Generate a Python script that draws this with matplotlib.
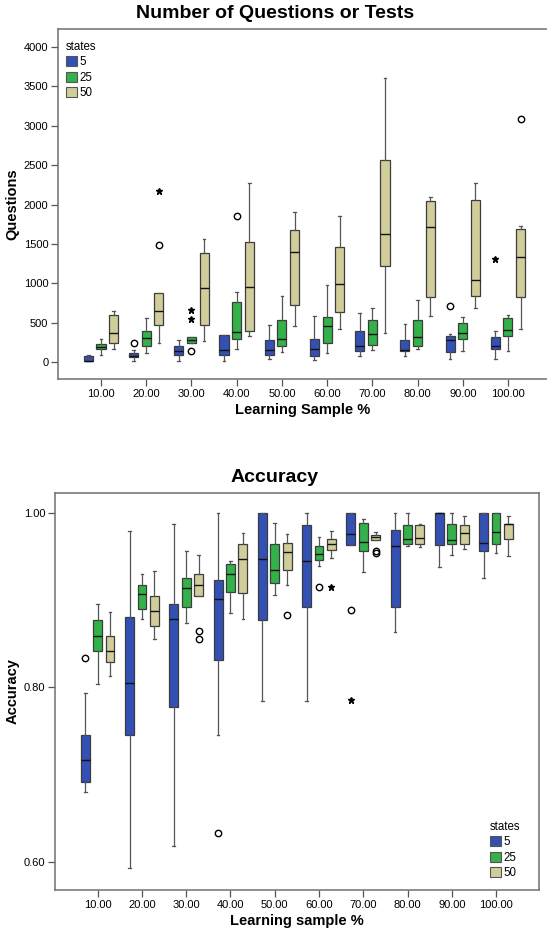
import numpy as np
import matplotlib
matplotlib.use("Agg")
import matplotlib.pyplot as plt
from matplotlib.patches import Patch

plt.rcParams["font.family"] = ["Liberation Sans", "DejaVu Sans"]

categories = ["10.00", "20.00", "30.00", "40.00", "50.00",
              "60.00", "70.00", "80.00", "90.00", "100.00"]
states = ["5", "25", "50"]
colors = ["#3350b5", "#33b24a", "#d0cd9a"]

# [low whisker, q1, median, q3, high whisker] per learning sample %
q_s5 = [[8, 13, 18, 76, 85], [13, 59, 76, 118, 152], [13, 89, 144, 203, 279],
        [13, 85, 152, 339, 347], [34, 85, 148, 279, 474], [25, 76, 161, 288, 588],
        [72, 140, 203, 394, 618], [76, 135, 152, 275, 478], [42, 127, 275, 334, 351],
        [42, 169, 203, 313, 394]]
q_s25 = [[85, 161, 195, 229, 288], [118, 203, 309, 389, 563], [237, 245, 279, 313, 322],
         [169, 288, 377, 766, 889], [131, 203, 288, 529, 834], [119, 237, 457, 567, 974],
         [152, 212, 351, 533, 686], [165, 199, 313, 533, 783], [144, 288, 373, 500, 567],
         [135, 326, 402, 559, 593]]
q_s50 = [[161, 245, 364, 593, 643], [237, 474, 643, 872, 880], [262, 466, 935, 1380, 1566],
         [334, 398, 948, 1524, 2269], [453, 724, 1401, 1672, 1900], [423, 639, 995, 1456, 1854],
         [364, 1215, 1625, 2569, 3607], [580, 830, 1710, 2049, 2091], [686, 838, 1046, 2053, 2273],
         [419, 821, 1329, 1689, 1727]]
# outliers: (category index, state index, value)
q_circles = [(1, 0, 237), (1, 2, 1486), (2, 1, 144), (3, 1, 1854), (8, 0, 711), (9, 2, 3090)]
q_stars = [(1, 2, 2176), (2, 1, 660), (2, 1, 542), (9, 0, 1308)]

a_s5 = [[0.680, 0.691, 0.717, 0.745, 0.793], [0.593, 0.745, 0.805, 0.881, 0.979],
        [0.618, 0.778, 0.879, 0.896, 0.987], [0.745, 0.831, 0.901, 0.923, 1.000],
        [0.784, 0.877, 0.947, 1.000, 1.000], [0.784, 0.892, 0.945, 0.986, 1.000],
        [0.963, 0.963, 0.976, 1.000, 1.000], [0.863, 0.892, 0.962, 0.981, 1.000],
        [0.938, 0.963, 1.000, 1.000, 1.000], [0.925, 0.957, 0.966, 1.000, 1.000]]
a_s25 = [[0.804, 0.842, 0.859, 0.877, 0.896], [0.878, 0.890, 0.907, 0.917, 0.930],
         [0.874, 0.892, 0.914, 0.925, 0.957], [0.885, 0.909, 0.930, 0.942, 0.945],
         [0.906, 0.920, 0.935, 0.964, 0.989], [0.939, 0.946, 0.953, 0.962, 0.972],
         [0.932, 0.957, 0.967, 0.989, 0.993], [0.962, 0.965, 0.970, 0.986, 1.000],
         [0.952, 0.964, 0.969, 0.988, 1.000], [0.954, 0.965, 0.978, 1.000, 1.000]]
a_s50 = [[0.813, 0.829, 0.842, 0.859, 0.886], [0.856, 0.870, 0.888, 0.905, 0.933],
         [0.905, 0.905, 0.917, 0.930, 0.952], [0.878, 0.908, 0.947, 0.964, 0.977],
         [0.917, 0.935, 0.955, 0.966, 0.976], [0.948, 0.958, 0.964, 0.970, 0.979],
         [0.969, 0.969, 0.972, 0.975, 0.978], [0.961, 0.965, 0.971, 0.986, 0.987],
         [0.959, 0.964, 0.977, 0.986, 0.997], [0.951, 0.970, 0.987, 0.987, 0.997]]
a_circles = [(0, 0, 0.834), (2, 2, 0.865), (2, 2, 0.856), (3, 0, 0.633), (4, 2, 0.883),
             (5, 1, 0.915), (6, 0, 0.889), (6, 2, 0.957), (6, 2, 0.954)]
a_stars = [(5, 2, 0.915), (6, 0, 0.785)]

W, H = 547, 936
fig = plt.figure(figsize=(W / 100, H / 100), dpi=100)


def axes_px(l, t, r, b):
    return fig.add_axes([l / W, 1 - b / H, (r - l) / W, (b - t) / H])


offsets = [-0.28, 0.0, 0.28]


def draw(ax, series, circles, stars):
    x = np.arange(len(categories))
    for s, (vals, c) in enumerate(zip(series, colors)):
        stats = [dict(whislo=v[0], q1=v[1], med=v[2], q3=v[3], whishi=v[4], fliers=[])
                 for v in vals]
        ax.bxp(stats, positions=x + offsets[s], widths=0.2, capwidths=0.06,
               patch_artist=True, manage_ticks=False,
               boxprops=dict(facecolor=c, edgecolor="#3c3c3c", linewidth=0.9),
               medianprops=dict(color="#111111", linewidth=1.0),
               whiskerprops=dict(color="#555555", linewidth=0.9),
               capprops=dict(color="#555555", linewidth=0.9))
    for i, s, v in circles:
        ax.plot(i + offsets[s], v, "o", ms=4.6, mfc="none", mec="black", mew=1.0)
    for i, s, v in stars:
        ax.plot(i + offsets[s], v, "*", ms=4.6, color="black")
    ax.set_xticks(x)
    ax.set_xticklabels(categories)
    ax.tick_params(direction="out", length=5, width=0.9, color="#555555",
                   labelsize=8, pad=2)
    for sp in ax.spines.values():
        sp.set_color("#707070")
        sp.set_linewidth(1.1)


def legend(ax, loc, anchor):
    handles = [Patch(facecolor=c, edgecolor="#555555", linewidth=0.8) for c in colors]
    lg = ax.legend(handles, states, title="states", loc=loc, bbox_to_anchor=anchor,
                   bbox_transform=fig.transFigure, frameon=False, fontsize=8.3,
                   title_fontsize=8.3, handlelength=0.95, handleheight=0.95,
                   labelspacing=0.3, handletextpad=0.25, borderpad=0,
                   alignment="left")
    return lg


# top chart
ax1 = axes_px(58, 29, 547, 379)
draw(ax1, [q_s5, q_s25, q_s50], q_circles, q_stars)
ax1.set_xlim(-0.951, 9.863)
ax1.set_ylim(-216, 4229)
ax1.set_yticks(np.arange(0, 4001, 500))
ax1.spines["right"].set_visible(False)
ax1.set_xlabel("Learning Sample %", fontsize=10.5, fontweight="bold", labelpad=3)
ax1.set_ylabel("Questions", fontsize=10.5, fontweight="bold", labelpad=3)
legend(ax1, "upper left", (60 / W, 1 - 35 / H))
fig.text(275 / W, 1 - 18.5 / H, "Number of Questions or Tests", fontsize=14,
         fontweight="bold", ha="center", va="baseline")

# bottom chart
ax2 = axes_px(55, 493, 539, 890)
draw(ax2, [a_s5, a_s25, a_s50], a_circles, a_stars)
ax2.set_xlim(-0.964, 9.97)
ax2.set_ylim(0.5675, 1.023)
ax2.set_yticks([0.6, 0.8, 1.0])
ax2.set_yticklabels(["0.60", "0.80", "1.00"])
ax2.set_xlabel("Learning sample %", fontsize=10.5, fontweight="bold", labelpad=3)
ax2.set_ylabel("Accuracy", fontsize=10.5, fontweight="bold", labelpad=3)
legend(ax2, "lower left", (484 / W, 1 - 885 / H))
fig.text(275 / W, 1 - 482 / H, "Accuracy", fontsize=14,
         fontweight="bold", ha="center", va="baseline")

fig.savefig("out.png", dpi=100)
